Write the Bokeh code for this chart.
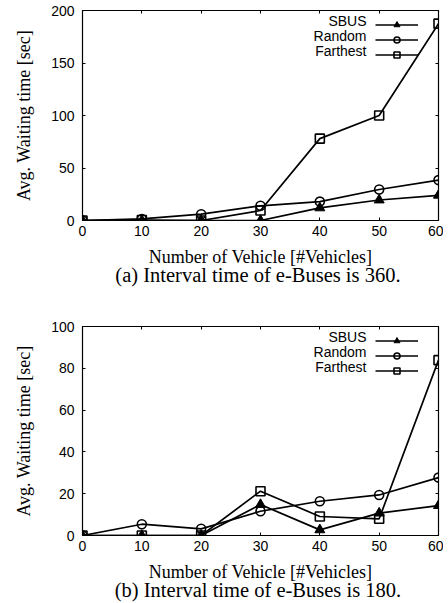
from bokeh.plotting import figure
from bokeh.layouts import column
from bokeh.models import LinearAxis, FixedTicker, Legend, LegendItem, Range1d, Label
from bokeh.embed import file_html
from bokeh.resources import INLINE

x = [0, 10, 20, 30, 40, 50, 60]

# (a) interval 360
a_sbus = [0, 0, 0, 0, 12, 19.5, 24]
a_random = [0, 1.5, 6, 14, 18, 29.5, 38.5]
a_farthest = [0, 0.5, 0, 9.5, 78, 100, 187.5]
a_yticks = [0, 50, 100, 150, 200]

# (b) interval 180
b_sbus = [0, 0, 0, 14.8, 2.7, 10.7, 14.3]
b_random = [0, 5.4, 3.2, 11.6, 16.4, 19.4, 27.7]
b_farthest = [0, 0, 0, 21.2, 9.1, 8, 83.9]
b_yticks = [0, 20, 40, 60, 80, 100]

xticks = [0, 10, 20, 30, 40, 50, 60]
series_names = ["SBUS", "Random", "Farthest"]
xlabel = "Number of Vehicle [#Vehicles]"
ylabel = "Avg. Waiting time [sec]"
captions = ["(a)  Interval time of e-Buses is 360.", "(b)  Interval time of e-Buses is 180."]

SANS = "Liberation Sans"
SERIF = "Liberation Serif"
FW = 356


def make_fig(sbus, rnd, far, yticks, ymax, caption, top_border, frame_h, bottom_border):
    p = figure(frame_width=FW, frame_height=frame_h, output_backend="svg",
               toolbar_location=None, x_range=Range1d(0, 60), y_range=Range1d(0, ymax),
               min_border_left=82, min_border_right=5, min_border_top=top_border,
               min_border_bottom=bottom_border, x_axis_location=None, y_axis_location=None)
    p.grid.visible = False
    p.outline_line_color = "black"
    p.outline_line_width = 1.2
    p.background_fill_color = "white"
    p.border_fill_color = "white"

    def style_axis(ax, labels=True):
        ax.major_tick_in = 3
        ax.major_tick_out = 0
        ax.minor_tick_line_color = None
        ax.axis_line_color = "black"
        ax.major_tick_line_color = "black"
        ax.major_label_text_font = SANS
        ax.major_label_text_font_size = "14px"
        ax.major_label_text_color = "black"
        ax.axis_label_text_color = "black"
        if not labels:
            ax.major_label_text_font_size = "0px"
            ax.major_label_standoff = 0

    xb = LinearAxis(ticker=FixedTicker(ticks=xticks), axis_label=xlabel)
    style_axis(xb)
    xb.major_label_standoff = 5
    xb.axis_label_text_font = SERIF
    xb.axis_label_text_font_style = "normal"
    xb.axis_label_text_font_size = "18px"
    xb.axis_label_standoff = 8
    p.add_layout(xb, "below")

    # caption as the label of a tick-less axis under the x axis
    cap = LinearAxis(ticker=FixedTicker(ticks=[]), axis_label=caption, bounds=(0, 54))
    cap.axis_line_color = None
    cap.major_tick_line_color = None
    cap.minor_tick_line_color = None
    cap.major_tick_in = 0
    cap.major_tick_out = 0
    cap.major_label_text_font_size = "0px"
    cap.major_label_standoff = 0
    cap.axis_label_text_font = SERIF
    cap.axis_label_text_font_style = "normal"
    cap.axis_label_text_font_size = "20.5px"
    cap.axis_label_text_color = "black"
    cap.axis_label_standoff = -6
    p.add_layout(cap, "below")

    yl = LinearAxis(ticker=FixedTicker(ticks=yticks), axis_label=ylabel)
    style_axis(yl)
    yl.major_label_standoff = 8
    yl.axis_label_text_font = SERIF
    yl.axis_label_text_font_style = "normal"
    yl.axis_label_text_font_size = "18px"
    yl.axis_label_standoff = 14
    p.add_layout(yl, "left")

    xt = LinearAxis(ticker=FixedTicker(ticks=xticks))
    style_axis(xt, labels=False)
    p.add_layout(xt, "above")
    yr = LinearAxis(ticker=FixedTicker(ticks=yticks))
    style_axis(yr, labels=False)
    p.add_layout(yr, "right")

    r1 = p.line(x, sbus, line_color="black", line_width=1.7)
    m1 = p.scatter(x, sbus, marker="triangle", size=10, fill_color="black", line_color="black")
    r2 = p.line(x, rnd, line_color="black", line_width=1.7)
    m2 = p.scatter(x, rnd, marker="circle", size=9, fill_color=None, line_color="black", line_width=1.6)
    r3 = p.line(x, far, line_color="black", line_width=1.7)
    m3 = p.scatter(x, far, marker="square", size=9, fill_color=None, line_color="black", line_width=1.6)

    # glyph-only legend (right of the names, gnuplot style)
    gitems = [LegendItem(label=" ", renderers=[r1, m1]),
              LegendItem(label=" ", renderers=[r2, m2]),
              LegendItem(label=" ", renderers=[r3, m3])]
    gleg = Legend(items=gitems, location=(293, frame_h - 52), background_fill_alpha=0,
                  border_line_color=None, label_text_font_size="1px",
                  glyph_width=43, glyph_height=15, spacing=0, padding=0, margin=0,
                  label_height=15, label_width=1, label_standoff=0)
    p.add_layout(gleg, "center")

    # right-aligned series names
    for i, n in enumerate(series_names):
        p.add_layout(Label(x=284, y=frame_h - 10 - 15 * i, x_units="screen", y_units="screen",
                           text=n, text_font=SANS, text_font_size="14px",
                           text_align="right", text_baseline="middle", text_color="black"))
    return p


p1 = make_fig(a_sbus, a_random, a_farthest, a_yticks, 200, captions[0], 10, 210, 86)
p2 = make_fig(b_sbus, b_random, b_farthest, b_yticks, 100, captions[1], 20, 209, 60)
layout = column(p1, p2, spacing=0)

open("out.html", "w").write(file_html(layout, INLINE))
